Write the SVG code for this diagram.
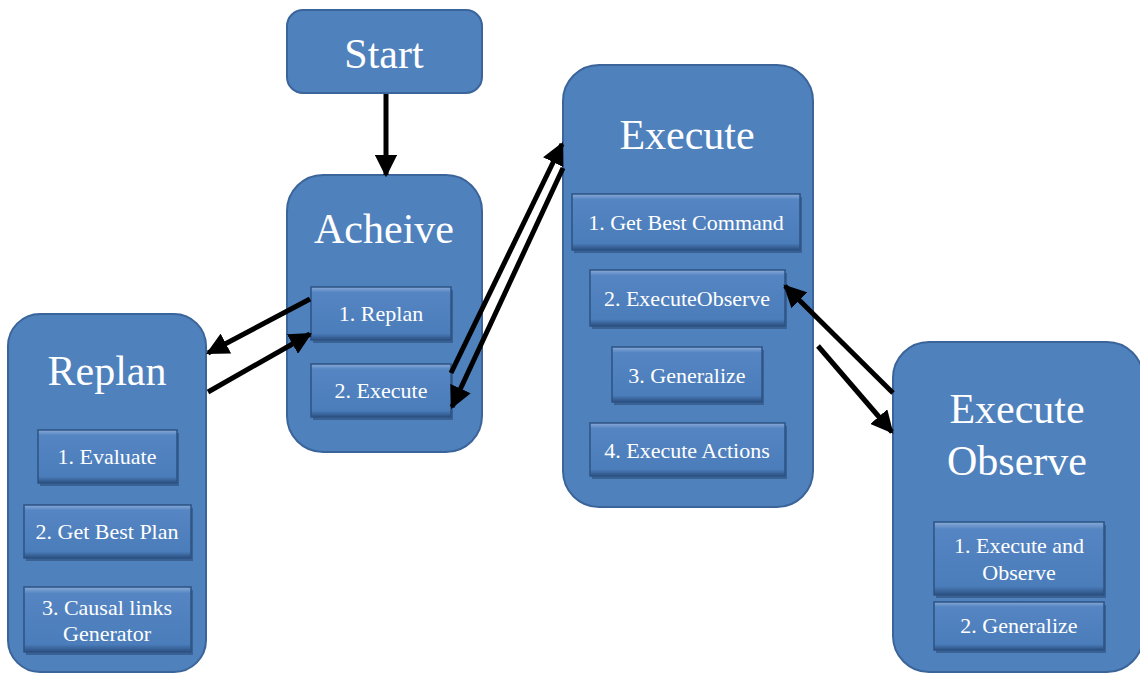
<svg xmlns="http://www.w3.org/2000/svg" width="1140" height="677" viewBox="0 0 1140 677">
<defs>
<linearGradient id="sub" x1="0" y1="0" x2="0" y2="1">
<stop offset="0" stop-color="#8aabd8"/>
<stop offset="0.1" stop-color="#5585c2"/>
<stop offset="0.88" stop-color="#4b7dbb"/>
<stop offset="1" stop-color="#2b4f80"/>
</linearGradient>
<marker id="ah" viewBox="0 0 10 10" refX="9" refY="5" markerWidth="4.5" markerHeight="4.5" orient="auto" markerUnits="strokeWidth">
<path d="M0,0 L10,5 L0,10 Z" fill="#000"/>
</marker>
</defs>
<style>
.big{fill:#4f81bd;stroke:#3b659a;stroke-width:2}
.sub{fill:url(#sub);stroke:#2d5384;stroke-width:1.5}
.sh{fill:#1f3a60;opacity:0.45}
.t{fill:#fff;text-anchor:middle}
.tt{font-size:42px}
.ts{font-size:22px}
.c{stroke:#000;stroke-width:5;fill:none;marker-end:url(#ah)}
</style>
<g font-family="'Liberation Serif','Times New Roman','DejaVu Serif',serif">
<g id="start">
<rect class="big" x="287" y="10" width="195" height="83" rx="16"/>
<text class="t" x="384" y="68" font-size="42">Start</text>
</g>
<g id="acheive">
<rect class="big" x="287" y="175" width="195" height="277" rx="36"/>
<text class="t tt" x="384" y="243">Acheive</text>
<rect class="sh" x="313" y="290" width="140" height="53"/>
<rect class="sub" x="311" y="287" width="140" height="53"/>
<text class="t ts" x="381" y="321">1. Replan</text>
<rect class="sh" x="313" y="367" width="140" height="53"/>
<rect class="sub" x="311" y="364" width="140" height="53"/>
<text class="t ts" x="381" y="398">2. Execute</text>
</g>
<g id="replan">
<rect class="big" x="8" y="314" width="198" height="358" rx="32"/>
<text class="t tt" x="107" y="385">Replan</text>
<rect class="sh" x="40" y="433" width="139" height="53"/>
<rect class="sub" x="38" y="430" width="139" height="53"/>
<text class="t ts" x="107" y="464">1. Evaluate</text>
<rect class="sh" x="26" y="508" width="167" height="53"/>
<rect class="sub" x="24" y="505" width="167" height="53"/>
<text class="t ts" x="107" y="539">2. Get Best Plan</text>
<rect class="sh" x="26" y="590" width="167" height="65"/>
<rect class="sub" x="24" y="587" width="167" height="65"/>
<text class="t ts" x="107" y="615">3. Causal links</text>
<text class="t ts" x="107" y="641">Generator</text>
</g>
<g id="execute">
<rect class="big" x="563" y="65" width="250" height="442" rx="36"/>
<text class="t tt" x="687" y="149">Execute</text>
<rect class="sh" x="574" y="197" width="228" height="56"/>
<rect class="sub" x="572" y="194" width="228" height="56"/>
<text class="t ts" x="686" y="230">1. Get Best Command</text>
<rect class="sh" x="592" y="273" width="195" height="56"/>
<rect class="sub" x="590" y="270" width="195" height="56"/>
<text class="t ts" x="687" y="306">2. ExecuteObserve</text>
<rect class="sh" x="614" y="350" width="150" height="55"/>
<rect class="sub" x="612" y="347" width="150" height="55"/>
<text class="t ts" x="687" y="383">3. Generalize</text>
<rect class="sh" x="592" y="426" width="195" height="53"/>
<rect class="sub" x="590" y="423" width="195" height="53"/>
<text class="t ts" x="687" y="458">4. Execute Actions</text>
</g>
<g id="executeobserve">
<rect class="big" x="893" y="342" width="250" height="330" rx="36"/>
<text class="t tt" x="1017" y="423">Execute</text>
<text class="t tt" x="1017" y="475">Observe</text>
<rect class="sh" x="936" y="525" width="170" height="73"/>
<rect class="sub" x="934" y="522" width="170" height="73"/>
<text class="t ts" x="1019" y="553">1. Execute and</text>
<text class="t ts" x="1019" y="580">Observe</text>
<rect class="sh" x="936" y="605" width="170" height="48"/>
<rect class="sub" x="934" y="602" width="170" height="48"/>
<text class="t ts" x="1019" y="633">2. Generalize</text>
</g>
</g>
<g id="connectors">
<line class="c" x1="386" y1="94" x2="386" y2="175"/>
<line class="c" x1="310" y1="299" x2="208" y2="353"/>
<line class="c" x1="208" y1="392" x2="310" y2="334"/>
<line class="c" x1="451" y1="373" x2="562" y2="144"/>
<line class="c" x1="563" y1="168" x2="452" y2="407"/>
<line class="c" x1="893" y1="393" x2="785" y2="286"/>
<line class="c" x1="818" y1="346" x2="892" y2="432"/>
</g>
</svg>
